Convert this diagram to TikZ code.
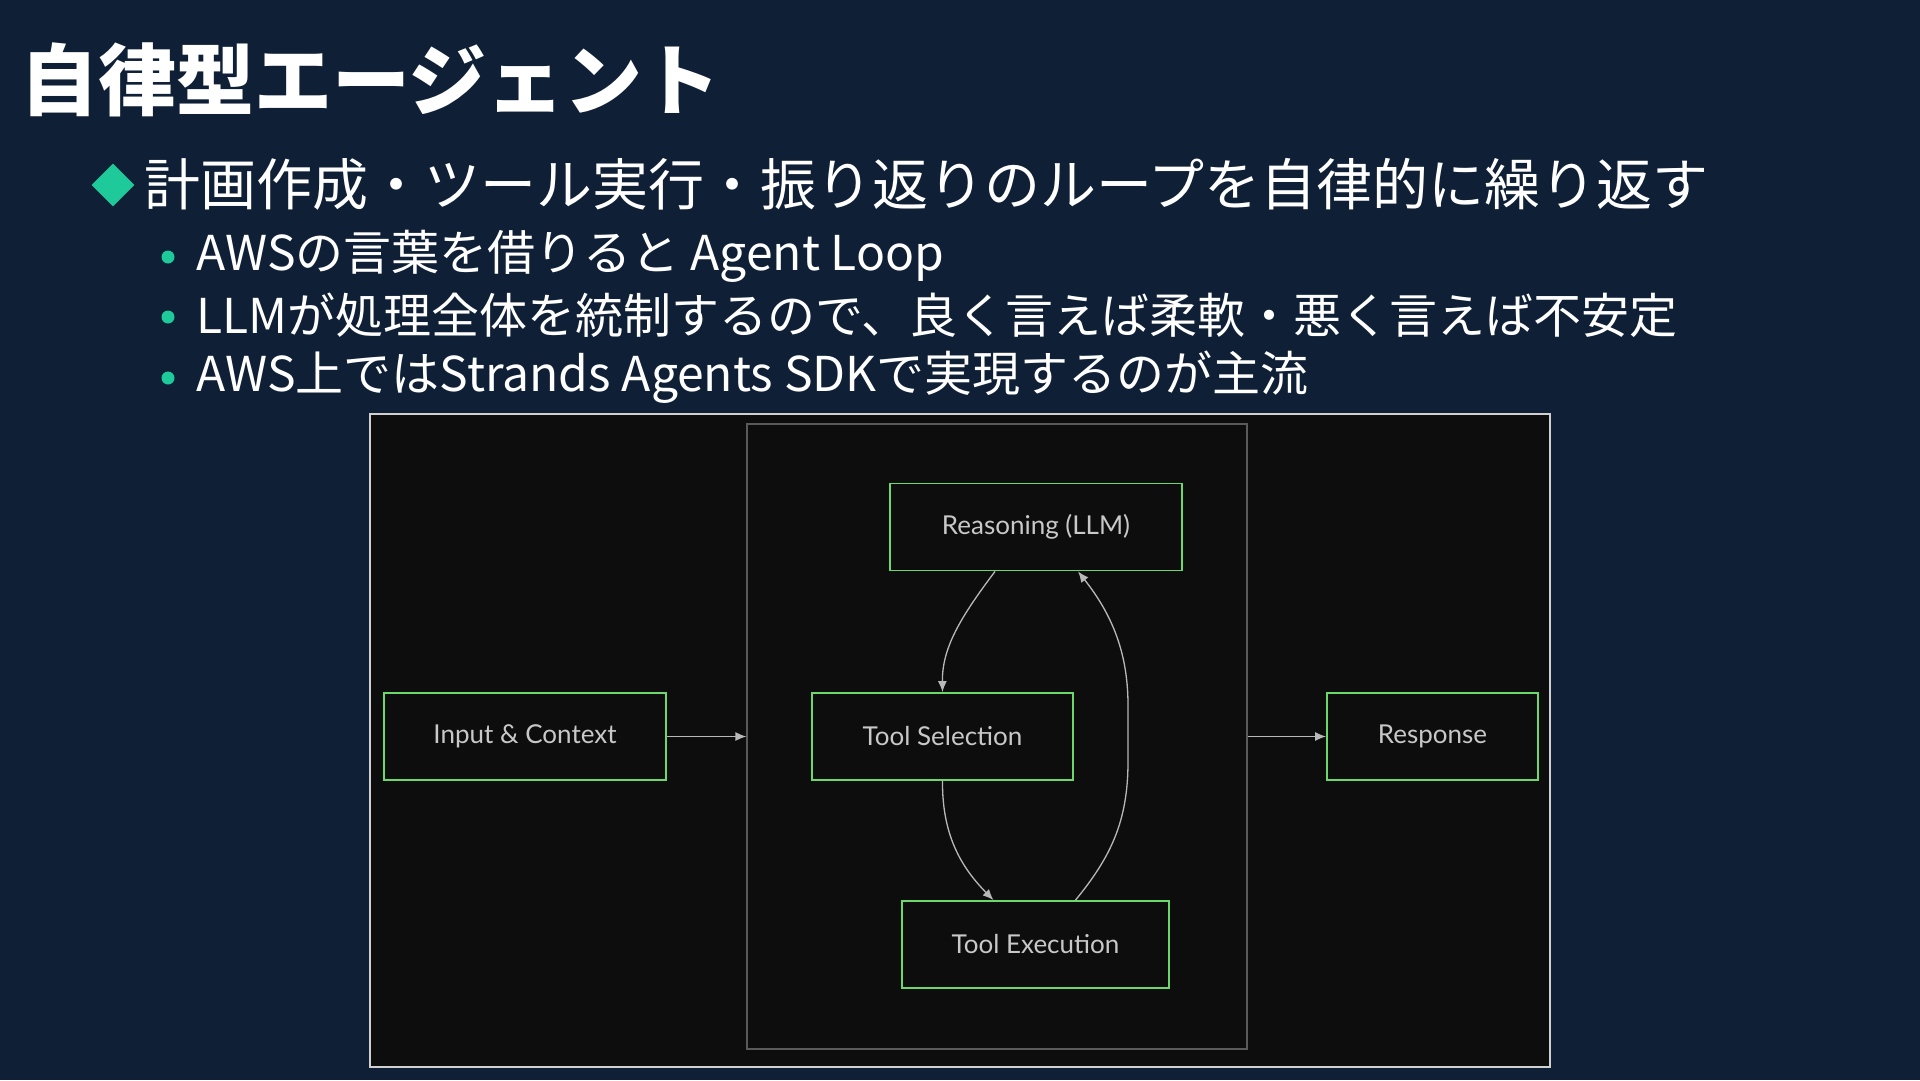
\documentclass[tikz,border=0pt]{standalone}
\usepackage{fontspec}
\usetikzlibrary{shapes.geometric,arrows.meta}
\newfontfamily\jp{Noto Sans CJK JP}
\newfontfamily\lat{Lato}
\definecolor{slide}{HTML}{0E1F36}
\definecolor{panel}{HTML}{0D0D0D}
\definecolor{frame}{HTML}{D0D0D0}
\definecolor{loopline}{HTML}{5A5A5A}
\definecolor{boxgreen}{HTML}{6CD86C}
\definecolor{label}{HTML}{C8C8C8}
\definecolor{wire}{HTML}{B8B8B8}
\definecolor{accent}{HTML}{1EC99A}
\tikzset{box/.style={rectangle,draw=boxgreen,line width=1.8pt,fill=panel,text=label,minimum height=87pt,inner sep=0pt,font=\lat\fontsize{26}{30}\selectfont}}
\tikzset{link/.style={-{Latex[length=11pt,width=9pt]},draw=wire,line width=1.3pt}}
\tikzset{sub/.style={anchor=west,text=white,inner sep=0pt,font=\jp\fontsize{48}{56}\selectfont}}
\tikzset{dot/.style={circle,fill=accent,minimum size=13pt,inner sep=0pt}}

\begin{document}
\begin{tikzpicture}[x=1pt,y=-1pt]
\fill[slide] (0,0) rectangle (1920,1080);
\useasboundingbox (0,0) rectangle (1920,1080);

% slide text
\node[anchor=west,text=white,inner sep=0pt,font=\jp\bfseries\fontsize{78}{90}\selectfont](title) at (20,80) {自律型エージェント};
\node[diamond,fill=accent,minimum width=43pt,minimum height=43pt,inner sep=0pt](mark) at (113,185) {};
\node[sub,font=\jp\fontsize{56}{64}\selectfont](point) at (144,184) {計画作成・ツール実行・振り返りのループを自律的に繰り返す};
\node[dot](d1) at (168,257) {};
\node[sub](s1) at (196,256) {AWSの言葉を借りると Agent Loop};
\node[dot](d2) at (168,317) {};
\node[sub](s2) at (196,315) {LLMが処理全体を統制するので、良く言えば柔軟・悪く言えば不安定};
\node[dot](d3) at (168,378) {};
\node[sub](s3) at (196,377) {AWS上ではStrands Agents SDKで実現するのが主流};

% diagram
\node[draw=frame,line width=2pt,fill=panel,minimum width=1180pt,minimum height=653pt,inner sep=0pt](shot) at (960,740.5) {};
\node[draw=loopline,line width=1.2pt,minimum width=500pt,minimum height=625pt,inner sep=0pt](loop) at (997,736.5) {};
\node[box,minimum width=292pt](reason) at (1036,527) {Reasoning (LLM)};
\node[box,minimum width=261pt](select) at (942.5,736.5) {Tool Selection};
\node[box,minimum width=267pt](exec) at (1035.5,944.5) {Tool Execution};
\node[box,minimum width=282pt](input) at (525,736.5) {Input \& Context};
\node[box,minimum width=211pt](resp) at (1432.5,736.5) {Response};

\draw[link] (input.east) -- (loop.west);
\draw[link] (loop.east) -- (resp.west);
\draw[link] ([xshift=-41pt]reason.south) .. controls (960,618) and (942,648) .. (select.north);
\draw[link] (select.south) .. controls (942,836) and (962,868) .. ([xshift=-42pt]exec.north);
\draw[link] ([xshift=40pt]exec.north) .. controls (1110,858) and (1128,822) .. (1128,762) -- (1128,705) .. controls (1128,650) and (1110,612) .. ([xshift=42pt]reason.south);
\end{tikzpicture}
\end{document}
